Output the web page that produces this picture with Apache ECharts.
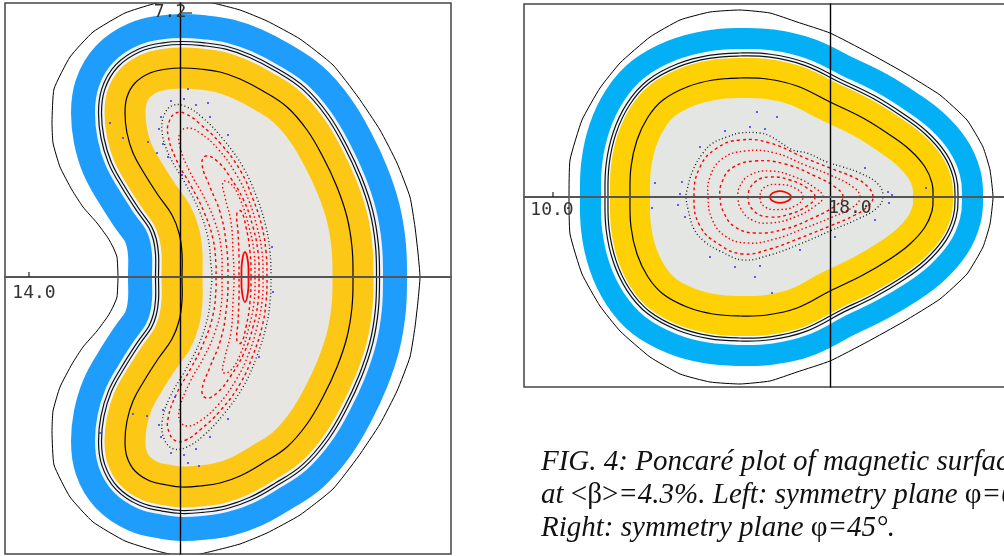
<!DOCTYPE html>
<html>
<head>
<meta charset="utf-8">
<title>Poincaré plot</title>
<script src="https://cdn.jsdelivr.net/npm/echarts@6.0.0/dist/echarts.min.js"></script>
<style>
  html, body { margin: 0; padding: 0; background: #fff; }
  #chart { width: 1004px; height: 556px; }
</style>
</head>
<body>
<div id="chart"></div>
<script>
// all shapes are in plot units, origin where the two axis lines cross

// ---- left panel: symmetry plane φ=0 ----
const leftXRange = [-17.5, 27.1];
const leftYRange = [-27.7, 27.4];
// outermost black contour
const leftOuter = [[24.0,0],[23.8,2.4],[23.5,5.0],[23.0,8.0],[21.7,11.4],[20.0,14.7],[17.8,18.0],[15.3,21.2],[12.0,23.8],[8.7,25.6],[6.0,26.7],[3.3,27.4],[0.5,28.0],[-2.7,27.3],[-5.5,26.4],[-8.7,24.5],[-11.0,22.0],[-12.6,18.8],[-12.8,15.5],[-12.7,13.4],[-12.0,11.0],[-10.8,8.7],[-9.7,7.0],[-8.3,5.4],[-7.2,3.9],[-6.7,3.0],[-6.3,2.0],[-6.2,0],
  [-6.3,-2.0],[-6.7,-3.0],[-7.2,-3.9],[-8.3,-5.4],[-9.7,-7.0],[-10.8,-8.7],[-12.0,-11.0],[-12.7,-13.4],[-12.8,-15.5],[-12.6,-18.8],[-11.0,-22.0],[-8.7,-24.5],[-5.5,-26.4],[-2.7,-27.3],[0.5,-28.0],[3.3,-27.4],[6.0,-26.7],[8.7,-25.6],[12.0,-23.8],[15.3,-21.2],[17.8,-18.0],[20.0,-14.7],[21.7,-11.4],[23.0,-8.0],[23.5,-5.0],[23.8,-2.4]];
// contour in the middle of the yellow band
const leftMid = [[17.3,0],[17.2,3.0],[16.7,6.0],[15.7,9.0],[14.3,12.0],[12.7,14.7],[10.7,17.0],[8.3,18.6],[6.0,19.8],[4.0,20.5],[2.0,20.8],[0.2,20.9],[-1.3,20.8],[-3.0,20.4],[-4.5,19.4],[-5.3,18.0],[-5.5,16.4],[-5.3,14.4],[-4.7,12.4],[-3.6,10.4],[-2.2,8.2],[-0.8,6.2],[-0.1,4.4],[0.2,2.4],[0.2,0],
  [0.2,-2.4],[-0.1,-4.4],[-0.8,-6.2],[-2.2,-8.2],[-3.6,-10.4],[-4.7,-12.4],[-5.3,-14.4],[-5.5,-16.4],[-5.3,-18.0],[-4.5,-19.4],[-3.0,-20.4],[-1.3,-20.8],[0.2,-21.0],[2.0,-20.9],[4.0,-20.6],[6.0,-19.9],[8.3,-18.6],[10.7,-17.0],[12.7,-14.7],[14.3,-12.0],[15.7,-9.0],[16.7,-6.0],[17.2,-3.0]];
// stochastic edge of the island region
const leftEdge = [[9.1,0],[9.0,2.5],[8.6,5.0],[7.7,7.9],[6.3,11.0],[4.3,13.8],[2.3,15.9],[0.7,17.0],[-0.6,17.2],[-1.5,16.4],[-1.8,14.6],[-1.1,12.2],[0.5,9.4],[1.9,6.7],[2.8,3.9],[3.1,1.2],[3.2,0],
  [3.1,-1.2],[2.8,-3.9],[1.9,-6.7],[0.5,-9.4],[-1.1,-12.2],[-1.8,-14.6],[-1.5,-16.4],[-0.6,-17.2],[0.7,-17.0],[2.3,-15.9],[4.3,-13.8],[6.3,-11.0],[7.7,-7.9],[8.6,-5.0],[9.0,-2.5]];
// nested red surfaces, outside in
const leftSurf1 = [[8.7,0],[8.6,2.5],[8.2,5.0],[7.3,7.8],[6.0,10.7],[4.0,13.4],[2.0,15.3],[0.6,16.3],[-0.4,16.4],[-1.1,15.5],[-1.2,14.2],[-0.4,11.8],[1.1,9.1],[2.4,6.5],[3.3,3.8],[3.6,1.2],[3.6,0],
  [3.6,-1.2],[3.3,-3.8],[2.4,-6.5],[1.1,-9.1],[-0.4,-11.8],[-1.2,-14.2],[-1.1,-15.5],[-0.4,-16.4],[0.6,-16.3],[2.0,-15.3],[4.0,-13.4],[6.0,-10.7],[7.3,-7.8],[8.2,-5.0],[8.6,-2.5]];
const leftSurf2 = [[8.3,0],[8.2,2.5],[7.7,5.0],[6.9,7.6],[5.6,10.3],[3.8,12.8],[2.0,14.4],[0.8,14.9],[0.0,14.4],[0.0,13.0],[1.0,10.5],[2.4,8.0],[3.5,5.5],[4.1,3.0],[4.2,0],
  [4.1,-3.0],[3.5,-5.5],[2.4,-8.0],[1.0,-10.5],[0.0,-13.0],[0.0,-14.4],[0.8,-14.9],[2.0,-14.4],[3.8,-12.8],[5.6,-10.3],[6.9,-7.6],[7.7,-5.0],[8.2,-2.5]];
const leftSurf3 = [[7.9,0],[7.8,2.5],[7.3,5.0],[6.4,7.6],[5.0,10.0],[3.7,11.6],[2.6,12.1],[2.2,11.3],[3.0,9.0],[4.0,6.5],[4.6,3.5],[4.8,0],
  [4.6,-3.5],[4.0,-6.5],[3.0,-9.0],[2.2,-11.3],[2.6,-12.1],[3.7,-11.6],[5.0,-10.0],[6.4,-7.6],[7.3,-5.0],[7.8,-2.5]];
const leftSurf4 = [[7.5,0],[7.4,2.5],[6.9,5.0],[6.0,7.8],[5.0,9.4],[4.3,9.5],[4.5,8.0],[5.1,5.5],[5.3,2.5],[5.4,0],
  [5.3,-2.5],[5.1,-5.5],[4.5,-8.0],[4.3,-9.5],[5.0,-9.4],[6.0,-7.8],[6.9,-5.0],[7.4,-2.5]];
const leftSurf5 = [[7.1,0],[7.0,2.5],[6.6,5.0],[6.1,6.6],[5.7,6.4],[5.8,4.5],[5.9,2.0],[5.9,0],[5.9,-2.0],[5.8,-4.5],[5.7,-6.4],[6.1,-6.6],[6.6,-5.0],[7.0,-2.5]];
const leftSurf6 = [[6.85,0],[6.8,1.5],[6.5,2.5],[6.2,1.5],[6.15,0],[6.2,-1.5],[6.5,-2.5],[6.8,-1.5]];
// loose field-line hits
const leftStray = [[-1.9,16.0],[-2.1,14.8],[-1.7,13.3],[-0.9,17.6],[0.4,17.8],[1.6,17.2],[3.0,16.0],[4.8,14.2],[-1.2,12.0],[0.2,10.2],
  [-1.9,-16.0],[-2.1,-14.8],[-1.7,-13.3],[-0.9,-17.6],[0.4,-17.8],[1.6,-17.2],[3.0,-16.0],[4.8,-14.2],[-0.5,-12.0],
  [0.8,18.8],[2.8,17.4],[-7.0,15.4],[-5.7,13.9],[-3.2,13.5],[-2.3,12.4],[-4.7,-13.7],[-3.3,-13.9],[-8.0,-15.6],[0.8,-18.6],[1.9,-18.9],[9.3,-1.5],[9.2,3.0],[7.9,-8.0]];
const leftTicks = [[-15.1, 0, -15.1, 0.5], [0, 26.4, 1.2, 26.4]];
const leftLabelPos = [[-14.6, -1.6], [-1.0, 26.5]];
const leftLabelText = ['14.0', '7.2'];

// ---- right panel: symmetry plane φ=45° ----
const rightXRange = [-30.6, 19.4];
const rightYRange = [-19.0, 19.3];
const rightOuter = [[16.3,0],[16.0,2.7],[15.3,5.0],[13.7,7.7],[11.0,10.2],[7.3,12.5],[3.7,14.5],[0.0,16.4],[-3.3,17.5],[-6.0,18.4],[-9.0,18.7],[-12.0,18.5],[-15.0,17.7],[-18.0,16.0],[-21.0,13.4],[-23.0,10.9],[-24.8,7.7],[-26.0,3.7],[-26.1,0],
  [-26.0,-3.7],[-24.8,-7.7],[-23.0,-10.9],[-21.0,-13.4],[-18.0,-16.0],[-15.0,-17.7],[-12.0,-18.5],[-9.0,-18.7],[-6.0,-18.4],[-3.3,-17.5],[0.0,-16.4],[3.7,-14.5],[7.3,-12.5],[11.0,-10.2],[13.7,-7.7],[15.3,-5.0],[16.0,-2.7]];
const rightMid = [[10.3,0],[10.2,1.4],[9.5,3.0],[8.0,4.7],[6.0,6.2],[3.3,7.9],[0.0,9.5],[-3.3,11.1],[-6.3,11.8],[-9.0,11.9],[-11.7,11.7],[-14.3,11.0],[-16.7,9.7],[-18.2,8.0],[-19.3,5.7],[-19.9,3.0],[-20.0,0],
  [-19.9,-3.0],[-19.3,-5.7],[-18.2,-8.0],[-16.7,-9.7],[-14.3,-11.0],[-11.7,-11.7],[-9.0,-11.9],[-6.3,-11.8],[-3.3,-11.1],[0.0,-9.4],[3.3,-7.8],[6.0,-6.2],[8.0,-4.7],[9.5,-3.0],[10.2,-1.4]];
const rightEdge = [[5.3,0],[4.8,1.3],[3.0,2.4],[1.3,3.0],[-0.3,3.5],[-2.3,4.4],[-3.7,4.7],[-6.0,6.1],[-7.0,6.4],[-9.0,6.4],[-10.3,6.0],[-11.7,5.4],[-12.7,4.4],[-13.7,2.7],[-14.3,0.7],[-14.4,0],
  [-14.2,-1.2],[-13.6,-3.2],[-12.5,-4.5],[-11.0,-5.4],[-8.7,-6.3],[-6.0,-5.8],[-3.0,-4.7],[0.0,-3.4],[3.0,-2.1],[4.7,-1.1]];
const rightSurf1 = [[4.3,0],[3.8,1.0],[2.5,1.9],[0.0,2.9],[-2.5,3.9],[-6.0,5.4],[-9.0,5.7],[-11.3,4.9],[-13.0,3.0],[-13.6,0],[-13.0,-2.9],[-11.0,-4.8],[-8.7,-5.7],[-6.0,-5.2],[-3.0,-4.1],[0.0,-2.9],[2.5,-1.8],[3.8,-0.9]];
const rightSurf2 = [[3.0,0],[2.3,1.0],[0.0,2.2],[-2.5,3.2],[-5.5,4.4],[-8.5,4.6],[-10.8,3.8],[-12.0,2.0],[-12.2,0],[-11.8,-2.2],[-10.5,-3.9],[-8.3,-4.6],[-5.5,-4.2],[-2.5,-3.1],[0.0,-2.1],[2.3,-1.0]];
const rightSurf3 = [[1.3,0],[0.5,1.0],[-1.5,2.1],[-4.5,3.3],[-7.5,3.6],[-9.8,2.9],[-10.8,1.5],[-11.0,0],[-10.6,-1.6],[-9.5,-3.0],[-7.5,-3.6],[-4.5,-3.2],[-1.5,-2.0],[0.5,-0.9]];
const rightSurf4 = [[-0.7,0],[-1.5,0.9],[-3.5,2.0],[-6.0,2.6],[-8.0,2.2],[-9.0,1.1],[-9.2,0],[-8.9,-1.2],[-7.8,-2.3],[-6.0,-2.6],[-3.5,-2.0],[-1.5,-0.9]];
const rightSurf5 = [[-1.5,0],[-2.3,0.9],[-4.0,1.7],[-6.0,2.0],[-7.5,1.5],[-8.2,0],[-7.5,-1.5],[-6.0,-2.0],[-4.0,-1.7],[-2.3,-0.9]];
const rightSurf6 = [[-2.7,0],[-3.5,0.9],[-5.0,1.25],[-6.5,1.0],[-7.0,0],[-6.5,-1.0],[-5.0,-1.25],[-3.5,-0.9]];
const rightSurf7 = [[-3.9,0],[-4.5,0.5],[-5.5,0.5],[-6.0,0],[-5.5,-0.5],[-4.5,-0.5]];
const rightStray = [[-7.3,8.5],[-5.3,8.0],[-17.5,1.4],[-17.8,-1.1],[-7.5,-8.0],[-5.8,-9.6],[7.2,0],[9.6,0.9],[-15.0,0.3],[-15.2,-0.8],[-14.8,1.5],[-14.5,-2.0],
  [-10.5,6.6],[-8.0,7.0],[-6.5,6.8],[-9.5,-7.0],[-7.0,-6.9],[5.8,0.5],[5.9,-0.6],[6.2,0.2],[-3.0,-5.3],[0.5,-4.0],[3.5,2.9],[-12.0,-6.0],[-13.0,5.0],[4.5,-2.3]];
const rightTicks = [[-27.7, 0, -27.7, 0.5]];
const rightLabelPos = [[-27.8, -1.3], [2.0, -1.1]];
const rightLabelText = ['10.0', '18.0'];

const chart = echarts.init(document.getElementById('chart'));

// closed curve drawn once through the axis scales
function loop(g, pts, style, smooth) {
  return {
    type: 'custom',
    coordinateSystem: 'cartesian2d',
    xAxisIndex: g,
    yAxisIndex: g,
    clip: true,
    silent: true,
    data: pts,
    renderItem: function (params, api) {
      if (params.dataIndex !== 0) return;
      return {
        type: 'polygon',
        shape: { points: pts.map(function (p) { return api.coord(p); }), smooth: smooth || 0 },
        style: Object.assign({ fill: 'none', lineJoin: 'round' }, style)
      };
    }
  };
}

// bands are strokes of fixed width around the middle contour
function bands(g, mid, c) {
  return [
    loop(g, mid, { stroke: c.blue, lineWidth: 2 * c.blueOut }, 0.4),
    loop(g, mid, { stroke: c.light, lineWidth: 2 * c.lightOut }, 0.4),
    loop(g, mid, { stroke: '#111', lineWidth: 2 * c.line1 + 1.2 }, 0.4),
    loop(g, mid, { stroke: c.light, lineWidth: 2 * c.line1 - 1.2 }, 0.4),
    loop(g, mid, { stroke: '#111', lineWidth: 2 * c.line2 + 1.2 }, 0.4),
    loop(g, mid, { stroke: c.light, lineWidth: 2 * c.line2 - 1.2 }, 0.4),
    loop(g, mid, { fill: c.gray, stroke: 'none' }, 0.4),
    loop(g, mid, { stroke: c.yellow, lineWidth: 2 * c.yellowHalf }, 0.4),
    loop(g, mid, { stroke: '#000', lineWidth: 1.2 }, 0.4)
  ];
}

function surfaces(g, list) {
  return list.map(function (pts, i) {
    return loop(g, pts, {
      stroke: '#ff0000',
      lineWidth: i === list.length - 1 ? 1.8 : 1.4,
      lineDash: i === list.length - 1 ? null : (i % 2 ? [1.5, 2.5] : [3, 3])
    }, 0.45);
  });
}

function strays(g, pts) {
  return {
    type: 'scatter', xAxisIndex: g, yAxisIndex: g, silent: true,
    symbol: 'rect', symbolSize: 2,
    itemStyle: { color: '#3b3bff' },
    data: pts
  };
}

function ticks(g, list) {
  return {
    type: 'custom', coordinateSystem: 'cartesian2d', xAxisIndex: g, yAxisIndex: g,
    silent: true, z: 6,
    data: list,
    renderItem: function (params, api) {
      const t = list[params.dataIndex];
      const a = api.coord([t[0], t[1]]);
      const b = api.coord([t[2], t[3]]);
      return {
        type: 'line',
        shape: { x1: a[0], y1: a[1], x2: b[0], y2: b[1] },
        style: { stroke: '#222', lineWidth: 1.2 }
      };
    }
  };
}

function labels(g, pos, text) {
  return {
    type: 'custom', coordinateSystem: 'cartesian2d', xAxisIndex: g, yAxisIndex: g,
    silent: true, z: 6,
    data: pos,
    renderItem: function (params, api) {
      const p = api.coord(pos[params.dataIndex]);
      return {
        type: 'text',
        x: p[0], y: p[1],
        style: {
          text: text[params.dataIndex],
          fontFamily: 'DejaVu Sans Mono', fontSize: 18,
          fill: '#333', align: 'center', verticalAlign: 'middle'
        }
      };
    }
  };
}

const leftColors = { blue: '#1e9dfd', light: '#eef4fe', yellow: '#fdc716', gray: '#e7e6e2',
  blueOut: 54, lightOut: 30, line1: 26.5, line2: 23.5, yellowHalf: 20.5 };
const rightColors = { blue: '#03b0f5', light: '#f2fbff', yellow: '#fdd103', gray: '#e3e6e3',
  blueOut: 50, lightOut: 29, line1: 25, line2: 22, yellowHalf: 20 };

function axisPair(g, xr, yr) {
  return {
    x: {
      type: 'value', gridIndex: g, min: xr[0], max: xr[1], z: 5,
      axisLine: { onZero: true, lineStyle: { color: '#555', width: 2 } },
      axisTick: { show: false }, axisLabel: { show: false }, splitLine: { show: false }
    },
    y: {
      type: 'value', gridIndex: g, min: yr[0], max: yr[1], z: 5,
      axisLine: { onZero: true, lineStyle: { color: '#000', width: 1.4 } },
      axisTick: { show: false }, axisLabel: { show: false }, splitLine: { show: false }
    }
  };
}
const leftAxes = axisPair(0, leftXRange, leftYRange);
const rightAxes = axisPair(1, rightXRange, rightYRange);

const captionFont = { fontFamily: 'Liberation Serif', fontSize: 29, fontStyle: 'italic', fill: '#111' };
const upright = { fontFamily: 'Liberation Serif', fontSize: 29, fontStyle: 'normal' };

const option = {
  animation: false,
  backgroundColor: '#fff',
  grid: [
    { left: 5, top: 3, width: 446, height: 551, outerBoundsMode: 'none',
      show: true, borderColor: '#444', borderWidth: 1.5, z: 5 },
    { left: 524, top: 4, width: 500, height: 383, outerBoundsMode: 'none',
      show: true, borderColor: '#444', borderWidth: 1.5, z: 5 }
  ],
  xAxis: [leftAxes.x, rightAxes.x],
  yAxis: [leftAxes.y, rightAxes.y],
  series: [].concat(
    bands(0, leftMid, leftColors),
    [loop(0, leftOuter, { stroke: '#000', lineWidth: 1 }, 0.15)],
    [loop(0, leftEdge, { stroke: '#222', lineWidth: 1.4, lineDash: [1, 2.5] }, 0.4)],
    surfaces(0, [leftSurf1, leftSurf2, leftSurf3, leftSurf4, leftSurf5, leftSurf6]),
    [strays(0, leftStray), ticks(0, leftTicks), labels(0, leftLabelPos, leftLabelText)],
    bands(1, rightMid, rightColors),
    [loop(1, rightOuter, { stroke: '#000', lineWidth: 1 }, 0.15)],
    [loop(1, rightEdge, { stroke: '#222', lineWidth: 1.4, lineDash: [1, 2.5] }, 0.4)],
    surfaces(1, [rightSurf1, rightSurf2, rightSurf3, rightSurf4, rightSurf5, rightSurf6, rightSurf7]),
    [strays(1, rightStray), ticks(1, rightTicks), labels(1, rightLabelPos, rightLabelText)]
  ),
  graphic: [
    { type: 'text', x: 541, y: 462, style: Object.assign({ text: 'FIG. 4: Poncaré plot of magnetic surfaces', verticalAlign: 'middle' }, captionFont) },
    { type: 'text', x: 541, y: 495, style: Object.assign({ text: 'at {n|<β>}=4.3%. Left: symmetry plane {n|φ}=0°.', verticalAlign: 'middle', rich: { n: upright } }, captionFont) },
    { type: 'text', x: 541, y: 528, style: Object.assign({ text: 'Right: symmetry plane {n|φ}=45°.', verticalAlign: 'middle', rich: { n: upright } }, captionFont) }
  ]
};

chart.setOption(option);
</script>
</body>
</html>
